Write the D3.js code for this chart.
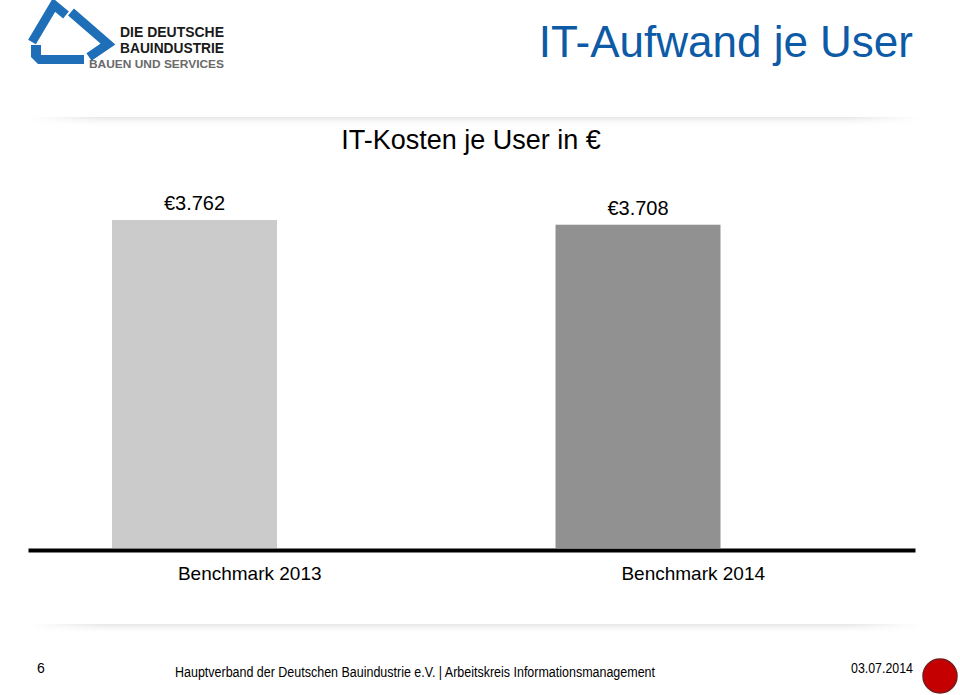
<!DOCTYPE html>
<html><head><meta charset="utf-8">
<script src="https://cdn.jsdelivr.net/npm/d3@7"></script>
<style>body{margin:0;background:#fff}svg{display:block}</style>
</head><body>
<svg id="c" width="960" height="695"></svg>
<script>
const categories = ["Benchmark 2013", "Benchmark 2014"];
const values = [3762, 3708];
const valueLabels = ["€3.762", "€3.708"];
const barColors = ["#cbcbcb", "#919191"];

const svg = d3.select("#c");
const defs = svg.append("defs");
const g1 = defs.append("linearGradient").attr("id","sh").attr("x1",0).attr("x2",0).attr("y1",0).attr("y2",1);
g1.append("stop").attr("offset","0%").attr("stop-color","#e6e6e6").attr("stop-opacity",1);
g1.append("stop").attr("offset","100%").attr("stop-color","#ffffff").attr("stop-opacity",0);
const g2 = defs.append("linearGradient").attr("id","shx").attr("x1",0).attr("x2",1);
g2.append("stop").attr("offset","0%").attr("stop-color","#fff").attr("stop-opacity",1);
g2.append("stop").attr("offset","8%").attr("stop-color","#fff").attr("stop-opacity",0);
g2.append("stop").attr("offset","92%").attr("stop-color","#fff").attr("stop-opacity",0);
g2.append("stop").attr("offset","100%").attr("stop-color","#fff").attr("stop-opacity",1);

// shadow bands
[[117,10],[624,10]].forEach(([y,h])=>{
  svg.append("rect").attr("x",30).attr("y",y).attr("width",890).attr("height",h).attr("fill","url(#sh)");
  svg.append("rect").attr("x",30).attr("y",y).attr("width",890).attr("height",h).attr("fill","url(#shx)");
});

// logo
const logo = svg.append("g");
const blue = "#1f6fb8";
logo.append("path").attr("d","M32,42 L54,5 L66,15")
  .attr("fill","none").attr("stroke",blue).attr("stroke-width",9).attr("stroke-linejoin","miter");
logo.append("path").attr("d","M71,12 L108,44 L89,57")
  .attr("fill","none").attr("stroke",blue).attr("stroke-width",9).attr("stroke-linejoin","miter");
logo.append("path").attr("d","M31,45 L41,45 L41,55 L84,55 L84,64 L38,64 L31,57 Z").attr("fill",blue);
const lf = "Liberation Sans Narrow, Liberation Sans, Arial";
logo.append("text").attr("x",120).attr("y",37).text("DIE DEUTSCHE")
  .attr("font-family",lf).attr("font-weight","bold")
  .attr("font-size",14).attr("fill","#1a1a1a").attr("textLength",104).attr("lengthAdjust","spacingAndGlyphs");
logo.append("text").attr("x",120).attr("y",53).text("BAUINDUSTRIE")
  .attr("font-family",lf).attr("font-weight","bold")
  .attr("font-size",14).attr("fill","#1a1a1a").attr("textLength",104).attr("lengthAdjust","spacingAndGlyphs");
logo.append("text").attr("x",89).attr("y",68).text("BAUEN UND SERVICES")
  .attr("font-family","Liberation Sans, Arial").attr("font-weight","bold")
  .attr("font-size",10.5).attr("fill","#6a6a6a").attr("textLength",135).attr("lengthAdjust","spacingAndGlyphs");

// main title
svg.append("text").attr("x",913).attr("y",57).attr("text-anchor","end")
  .attr("font-family","Liberation Sans, Arial").attr("font-size",44).attr("fill","#0d5aa7")
  .text("IT-Aufwand je User");

// chart title
svg.append("text").attr("x",471).attr("y",149).attr("text-anchor","middle")
  .attr("font-family","Liberation Sans, Arial").attr("font-size",27).attr("fill","#000")
  .text("IT-Kosten je User in €");

// scales
const x = d3.scaleBand().domain(categories).range([28, 915]).padding(0);
const y = d3.scaleLinear().domain([0, 4000]).range([548, 548 - 328*4000/3762]);
const barOffset = 84, barW = 165;

svg.selectAll("rect.bar").data(values).join("rect").attr("class","bar")
  .attr("x",(d,i)=>x(categories[i])+barOffset)
  .attr("width",barW)
  .attr("y",d=>y(d)).attr("height",d=>y(0)-y(d))
  .attr("fill",(d,i)=>barColors[i]);

svg.selectAll("text.val").data(values).join("text").attr("class","val")
  .attr("x",(d,i)=>x(categories[i])+barOffset+barW/2)
  .attr("y",d=>y(d)-10)
  .attr("text-anchor","middle").attr("font-family","Liberation Sans, Arial").attr("font-size",20)
  .text((d,i)=>valueLabels[i]);

// axis
const ax = svg.append("g").attr("transform","translate(0,550)")
  .call(d3.axisBottom(x).tickSize(0).tickPadding(17));
ax.select(".domain").attr("stroke","#000").attr("stroke-width",4);
ax.selectAll("text").attr("font-family","Liberation Sans, Arial").attr("font-size",19).attr("fill","#000");

// footer
svg.append("text").attr("x",37).attr("y",673).text("6")
  .attr("font-family",lf).attr("font-size",14);
svg.append("text").attr("x",175).attr("y",677)
  .text("Hauptverband der Deutschen Bauindustrie e.V. | Arbeitskreis Informationsmanagement")
  .attr("font-family",lf).attr("font-size",14)
  .attr("textLength",480).attr("lengthAdjust","spacingAndGlyphs");
svg.append("text").attr("x",913).attr("y",673).attr("text-anchor","end").text("03.07.2014")
  .attr("font-family",lf).attr("font-size",14)
  .attr("textLength",62).attr("lengthAdjust","spacingAndGlyphs");
svg.append("circle").attr("cx",940).attr("cy",676).attr("r",17)
  .attr("fill","#c40000").attr("stroke","#7a1a1a").attr("stroke-width",1.5);
</script>
</body></html>
